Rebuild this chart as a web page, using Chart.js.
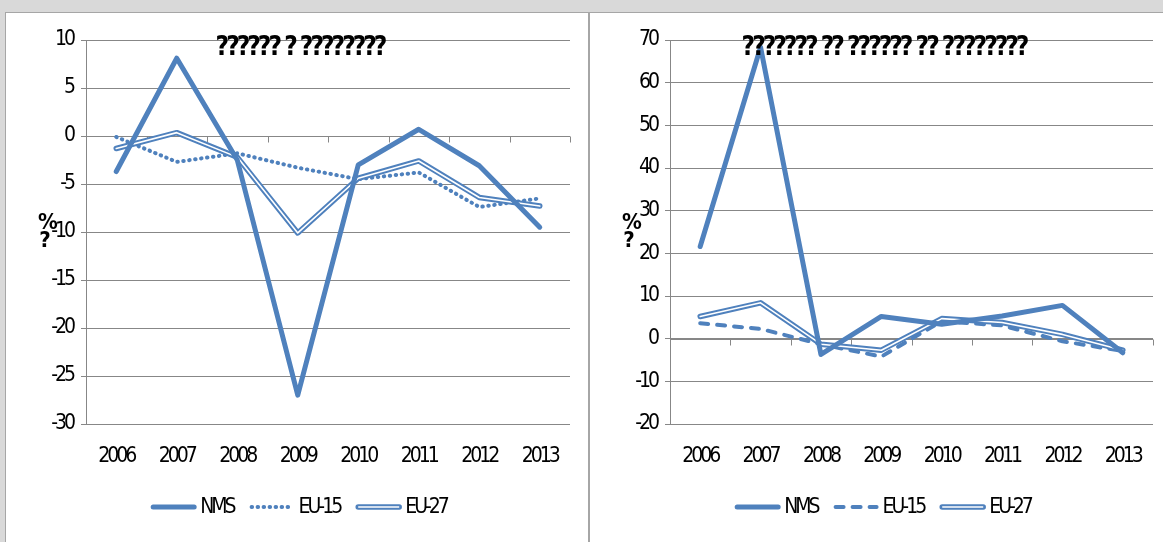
<!DOCTYPE html>
<html>
<head>
<meta charset="utf-8">
<script src="https://cdn.jsdelivr.net/npm/chart.js@4.4.1/dist/chart.umd.min.js"></script>
<style>
    html, body { margin: 0; padding: 0; }
    body {
        width: 1163px;
        height: 542px;
        background: #d9d9d9;
        position: relative;
        overflow: hidden;
    }
    .panel {
        position: absolute;
        top: 12px;
        height: 560px;
        background: #fff;
        border: 1px solid #a6a6a6;
        box-sizing: border-box;
    }
    #leftPanel { left: 5px; width: 584px; }
    #rightPanel { left: 589px; width: 600px; }
    .panel canvas { position: absolute; top: 0; left: 0; }
</style>
</head>
<body>
<div class="panel" id="leftPanel"><canvas id="leftChart" width="582" height="529"></canvas></div>
<div class="panel" id="rightPanel"><canvas id="rightChart" width="573" height="529"></canvas></div>

<script>
const years = ["2006", "2007", "2008", "2009", "2010", "2011", "2012", "2013"];

// left panel, %
const nmsLeft  = [-3.7, 8.1, -2.5, -27.0, -3.0, 0.7, -3.1, -9.5];
const eu15Left = [-0.1, -2.7, -1.8, -3.3, -4.5, -3.8, -7.4, -6.5];
const eu27Left = [-1.3, 0.35, -2.2, -10.1, -4.4, -2.6, -6.4, -7.3];

// right panel, %
const nmsRight  = [21.6, 68.3, -3.7, 5.2, 3.4, 5.3, 7.8, -3.3];
const eu15Right = [3.6, 2.3, -1.3, -4.2, 4.1, 3.1, -0.6, -2.9];
const eu27Right = [5.2, 8.4, -1.3, -2.7, 4.7, 3.8, 1.0, -2.7];

const leftTitle = "?????? ? ????????";
const rightTitle = "??????? ?? ?????? ?? ????????";
const axisMark = ["%", "?"];

const colors = {
    blue: "#4f81bd",
    grid: "#878787",
    text: "#000000",
};

const narrowFont = "'Liberation Sans Narrow', 'DejaVu Sans Condensed', 'Liberation Sans', sans-serif";

/* ======================
   PLUGINS
====================== */

// tight letter spacing for all canvas text
const tightText = {
    id: "tightText",
    beforeUpdate(chart) { chart.ctx.letterSpacing = "-3px"; },
    beforeDraw(chart) { chart.ctx.letterSpacing = "-3px"; },
};

// horizontal axis crosses at zero, with tick marks between categories
const zeroAxis = {
    id: "zeroAxis",
    beforeDatasetsDraw(chart) {
        const { ctx, chartArea, scales: { x, y } } = chart;
        const y0 = Math.round(y.getPixelForValue(0)) + 0.5;
        ctx.save();
        ctx.strokeStyle = colors.grid;
        ctx.lineWidth = 1;
        ctx.beginPath();
        ctx.moveTo(chartArea.left, y0);
        ctx.lineTo(chartArea.right, y0);
        for (let i = 0; i <= years.length; i++) {
            const px = Math.round(x.getPixelForValue(i - 0.5)) + 0.5;
            ctx.moveTo(px, y0);
            ctx.lineTo(px, y0 + 6);
        }
        ctx.stroke();
        ctx.restore();
    },
};

// title, axis mark and legend drawn over the plot
const overlay = {
    id: "overlay",
    afterDraw(chart, args, opts) {
        const { ctx } = chart;
        ctx.save();

        /* title */
        ctx.fillStyle = colors.text;
        ctx.textAlign = "center";
        ctx.textBaseline = "middle";
        ctx.letterSpacing = "-3px";
        ctx.font = "bold 26px " + narrowFont;
        ctx.fillText(opts.title, opts.titleX, 35);

        /* y axis mark */
        ctx.font = "bold 22px " + narrowFont;
        ctx.letterSpacing = "0px";
        ctx.fillText(axisMark[0], 42, 210);
        ctx.fillText(axisMark[1], 39, 228);

        /* legend */
        const items = chart.data.datasets.filter(d => !d.innerLine);
        const sampleW = 45, gap = 4, itemGap = 16, ly = 494;
        ctx.font = "21px " + narrowFont;
        ctx.letterSpacing = "-3px";
        const widths = items.map(d => ctx.measureText(d.label).width);
        const total = widths.reduce((a, w) => a + w + sampleW + gap, 0) + itemGap * (items.length - 1);
        let lx = opts.legendX - total / 2;

        items.forEach((d, i) => {
            ctx.strokeStyle = d.borderColor;
            ctx.lineWidth = d.borderWidth;
            ctx.lineCap = "round";
            ctx.setLineDash(d.borderDash || []);
            ctx.beginPath();
            ctx.moveTo(lx + 2, ly);
            ctx.lineTo(lx + sampleW - 2, ly);
            ctx.stroke();
            if (d.doubleLine) {
                ctx.strokeStyle = "#ffffff";
                ctx.lineWidth = 1.6;
                ctx.lineCap = "butt";
                ctx.beginPath();
                ctx.moveTo(lx + 2, ly);
                ctx.lineTo(lx + sampleW - 2, ly);
                ctx.stroke();
            }
            ctx.setLineDash([]);
            ctx.fillStyle = colors.text;
            ctx.textAlign = "left";
            ctx.fillText(d.label, lx + sampleW + gap, ly + 1);
            lx += sampleW + gap + widths[i] + itemGap;
        });

        ctx.restore();
    },
};

/* ======================
   CHART BUILDER
====================== */
function series(label, data, extra) {
    return Object.assign({
        label: label,
        data: data,
        borderColor: colors.blue,
        borderWidth: 5,
        pointRadius: 0,
        tension: 0,
        fill: false,
        borderCapStyle: "round",
        borderJoinStyle: "round",
    }, extra);
}

function buildChart(id, cfg) {
    return new Chart(document.getElementById(id), {
        type: "line",
        data: {
            labels: years,
            datasets: [
                series("NMS", cfg.nms, { order: 0 }),
                series("EU-15", cfg.eu15, { borderWidth: 4, borderDash: cfg.eu15Dash, order: 3 }),
                series("EU-27", cfg.eu27, { borderWidth: 5.5, doubleLine: true, order: 2 }),
                series("EU-27", cfg.eu27, { innerLine: true, borderColor: "#ffffff", borderWidth: 1.6, order: 1 }),
            ],
        },
        options: {
            responsive: false,
            animation: false,
            devicePixelRatio: 1,
            layout: { padding: { left: 0, right: cfg.padRight, top: 27, bottom: 0 } },
            plugins: {
                legend: { display: false },
                title: { display: false },
                tooltip: { enabled: false },
                overlay: { title: cfg.title, titleX: 294, legendX: 293 },
            },
            scales: {
                x: {
                    offset: true,
                    grid: { display: false, drawTicks: false, offset: true },
                    border: { display: false },
                    ticks: {
                        color: colors.text,
                        font: { family: narrowFont, size: 21 },
                        padding: 20,
                        maxRotation: 0,
                        autoSkip: false,
                    },
                    afterFit(scale) { scale.height = 118; },
                },
                y: {
                    min: cfg.min,
                    max: cfg.max,
                    grid: { color: colors.grid, lineWidth: 1, tickLength: 5 },
                    border: { display: true, color: colors.grid },
                    ticks: {
                        stepSize: cfg.step,
                        color: colors.text,
                        font: { family: narrowFont, size: 21 },
                        padding: 8,
                    },
                    afterFit(scale) { scale.width = 80; },
                },
            },
        },
        plugins: [tightText, zeroAxis, overlay],
    });
}

document.addEventListener("DOMContentLoaded", function () {
    buildChart("leftChart", {
        nms: nmsLeft, eu15: eu15Left, eu27: eu27Left,
        eu15Dash: [0.5, 5.5],
        min: -30, max: 10, step: 5,
        padRight: 18,
        title: leftTitle,
    });

    buildChart("rightChart", {
        nms: nmsRight, eu15: eu15Right, eu27: eu27Right,
        eu15Dash: [8, 9],
        min: -20, max: 70, step: 10,
        padRight: 10,
        title: rightTitle,
    });
});
</script>
</body>
</html>
